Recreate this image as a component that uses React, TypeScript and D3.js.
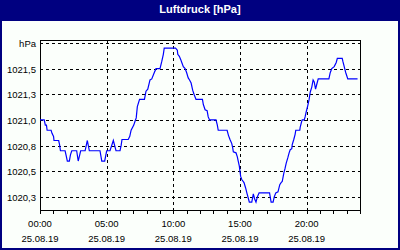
import React from "react";
import * as d3 from "d3";

const title = "Luftdruck [hPa]";

// minutes since 00:00
const timesMin = [
  0, 19, 24, 29, 32, 50, 54, 61, 63, 84, 88, 92, 113, 117, 123, 132, 137, 143, 165, 172,
  183, 203, 213, 222, 270, 278, 291, 300, 315, 330, 342, 360, 365, 369, 397, 404, 410, 422, 428, 433,
  438, 448, 470, 477, 485, 495, 503, 514, 522, 540, 548, 555, 559, 610, 618, 620, 627, 633, 638, 645,
  653, 660, 667, 673, 680, 687, 693, 702, 731, 735, 743, 752, 757, 763, 792, 798, 802, 842, 848, 855,
  863, 867, 870, 882, 888, 892, 897, 900, 903, 908, 918, 925, 932, 937, 942, 953, 960, 966, 972, 978,
  986, 1033, 1040, 1049, 1054, 1061, 1071, 1079, 1085, 1090, 1097, 1103, 1108, 1115, 1121, 1126, 1133, 1135, 1142, 1148,
  1151, 1169, 1171, 1178, 1180, 1189, 1193, 1198, 1205, 1211, 1216, 1223, 1229, 1234, 1240, 1247, 1252, 1300, 1306, 1313,
  1324, 1333, 1338, 1360, 1363, 1369, 1376, 1385, 1429,
];

const pressure = [
  1021.0, 1021.0, 1020.95, 1020.95, 1020.9, 1020.9, 1020.87, 1020.84, 1020.8, 1020.8, 1020.76, 1020.7, 1020.7, 1020.66, 1020.6, 1020.6, 1020.66, 1020.7, 1020.7, 1020.6,
  1020.7, 1020.7, 1020.8, 1020.7, 1020.7, 1020.6, 1020.6, 1020.7, 1020.7, 1020.8, 1020.7, 1020.7, 1020.75, 1020.81, 1020.81, 1020.84, 1020.9, 1020.95, 1020.99, 1021.02,
  1021.13, 1021.2, 1021.2, 1021.28, 1021.3, 1021.39, 1021.4, 1021.46, 1021.5, 1021.5, 1021.57, 1021.64, 1021.7, 1021.7, 1021.68, 1021.64, 1021.62, 1021.59, 1021.56, 1021.52,
  1021.5, 1021.46, 1021.41, 1021.39, 1021.36, 1021.29, 1021.25, 1021.2, 1021.2, 1021.15, 1021.1, 1021.09, 1021.03, 1021.0, 1021.0, 1020.95, 1020.9, 1020.9, 1020.85, 1020.81,
  1020.77, 1020.73, 1020.69, 1020.68, 1020.64, 1020.6, 1020.55, 1020.5, 1020.45, 1020.42, 1020.39, 1020.34, 1020.28, 1020.24, 1020.2, 1020.2, 1020.28, 1020.23, 1020.2, 1020.25,
  1020.29, 1020.29, 1020.2, 1020.2, 1020.25, 1020.29, 1020.3, 1020.37, 1020.39, 1020.4, 1020.48, 1020.53, 1020.58, 1020.63, 1020.68, 1020.71, 1020.72, 1020.76, 1020.81, 1020.86,
  1020.9, 1020.9, 1020.93, 1020.99, 1021.0, 1021.0, 1021.03, 1021.08, 1021.14, 1021.2, 1021.27, 1021.32, 1021.39, 1021.37, 1021.3, 1021.36, 1021.4, 1021.4, 1021.46, 1021.5,
  1021.52, 1021.56, 1021.6, 1021.6, 1021.57, 1021.52, 1021.46, 1021.4, 1021.4,
];

const xTickMinutes = [0, 300, 600, 900, 1200];
const xTickTimes = ["00:00", "05:00", "10:00", "15:00", "20:00"];
const xTickDate = "25.08.19";
const yTickValues = [1020.25, 1020.5, 1020.75, 1021.0, 1021.25, 1021.5, 1021.75];
const yTickLabels = ["1020,3", "1020,5", "1020,8", "1021,0", "1021,3", "1021,5", "hPa"];

export default function App() {
  const W = 400;
  const H = 250;
  const left = 40, right = 360, top = 40, bottom = 210;
  const x = d3.scaleLinear().domain([0, 1440]).range([left, right]);
  const y = d3.scaleLinear().domain([1020.123, 1021.779]).range([bottom, top]);
  const pts: [number, number][] = timesMin.map((t, i) => [x(t), y(pressure[i])]);
  const line = d3.line<[number, number]>().x((d) => d[0]).y((d) => d[1]);
  const hourTicks = d3.range(0, 1441, 60);
  const px = (v: number) => Math.round(v) + 0.5;
  const font = "'Liberation Sans', Arial, sans-serif";

  return (
    <svg
      width={W}
      height={H}
      style={{ position: "absolute", left: 0, top: 0, display: "block" }}
    >
      <rect x={0} y={0} width={W} height={H} fill="#000080" />
      <rect x={2} y={21} width={W - 4} height={H - 23} fill="#fbfffb" />
      <text
        x={W / 2}
        y={13}
        textAnchor="middle"
        fill="#ffffff"
        fontFamily={font}
        fontWeight="bold"
        fontSize={11}
      >
        {title}
      </text>

      {/* horizontal grid */}
      {yTickValues.map((v, i) => (
        <line
          key={"gy" + i}
          x1={left}
          x2={right}
          y1={px(y(v))}
          y2={px(y(v))}
          stroke="#000"
          strokeDasharray="3,3"
          shapeRendering="crispEdges"
        />
      ))}
      {/* vertical grid */}
      {xTickMinutes.slice(1).map((t, i) => (
        <line
          key={"gx" + i}
          x1={px(x(t))}
          x2={px(x(t))}
          y1={top}
          y2={bottom}
          stroke="#000"
          strokeDasharray="3,3"
          shapeRendering="crispEdges"
        />
      ))}

      {/* frame */}
      <rect
        x={left + 0.5}
        y={top + 0.5}
        width={right - left}
        height={bottom - top}
        fill="none"
        stroke="#000"
        shapeRendering="crispEdges"
      />
      {hourTicks.map((t) => (
        <line
          key={"ht" + t}
          x1={px(x(t))}
          x2={px(x(t))}
          y1={bottom}
          y2={bottom + 4}
          stroke="#000"
          shapeRendering="crispEdges"
        />
      ))}

      {/* data */}
      <path d={line(pts) || ""} fill="none" stroke="#0000ff" strokeWidth={1.2} />

      {/* y labels */}
      {yTickValues.map((v, i) => (
        <text
          key={"yl" + i}
          x={left - 4}
          y={px(y(v)) + 3.5}
          textAnchor="end"
          fontFamily={font}
          fontSize={9.5}
          fill="#000"
        >
          {yTickLabels[i]}
        </text>
      ))}
      {/* x labels */}
      {xTickMinutes.map((t, i) => (
        <g key={"xl" + i}>
          <text
            x={x(t)}
            y={227}
            textAnchor="middle"
            fontFamily={font}
            fontSize={9.5}
            fill="#000"
          >
            {xTickTimes[i]}
          </text>
          <text
            x={x(t)}
            y={242}
            textAnchor="middle"
            fontFamily={font}
            fontSize={9.5}
            fill="#000"
          >
            {xTickDate}
          </text>
        </g>
      ))}
    </svg>
  );
}
